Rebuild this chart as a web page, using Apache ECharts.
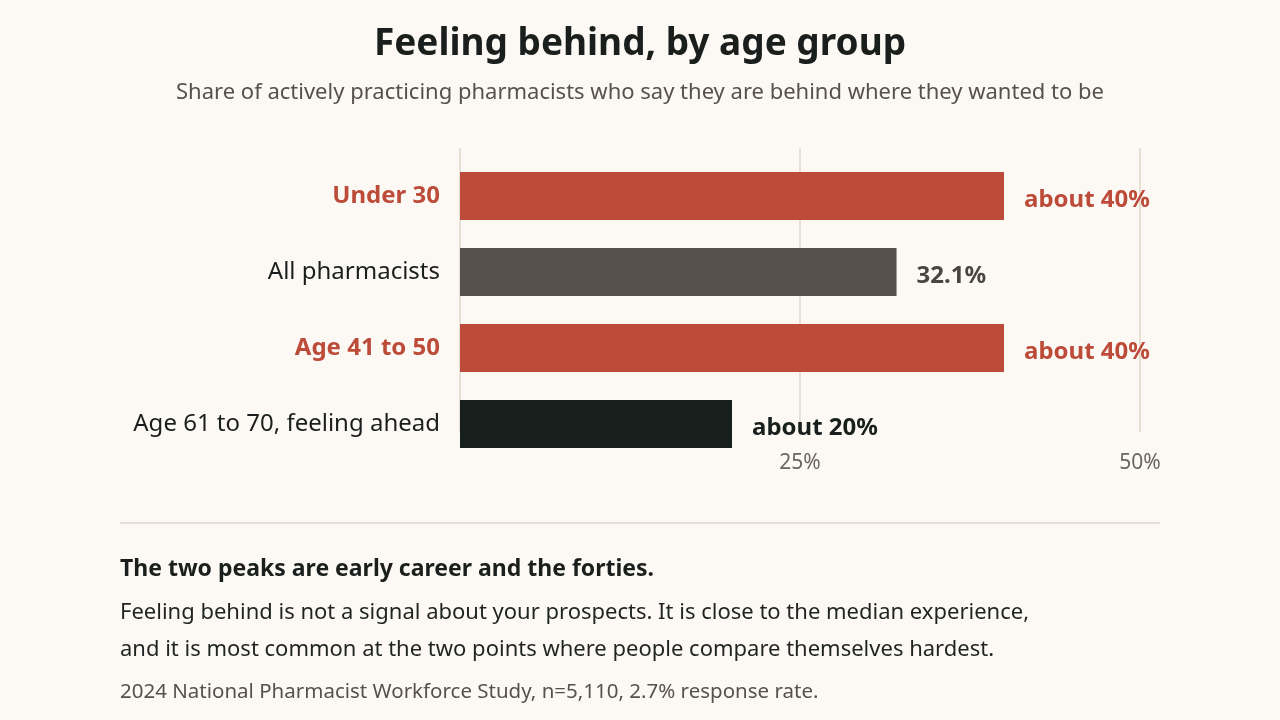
<!DOCTYPE html>
<html>
<head>
<meta charset="utf-8">
<script src="https://cdn.jsdelivr.net/npm/echarts@6/dist/echarts.min.js"></script>
<style>
  html, body { margin: 0; padding: 0; background: #fcf9f4; }
  #main { width: 1280px; height: 720px; }
</style>
</head>
<body>
<div id="main"></div>
<script>
var categories = ['Under 30', 'All pharmacists', 'Age 41 to 50', 'Age 61 to 70, feeling ahead'];
var values = [40, 32.1, 40, 20];
var valueLabels = ['about 40%', '32.1%', 'about 40%', 'about 20%'];
var highlighted = ['Under 30', 'Age 41 to 50'];

var barColors = ['#bc4b3a', '#57514b', '#bc4b3a', '#18201e'];
var labelColors = ['#bc4b3a', '#4a4541', '#bc4b3a', '#18201e'];
var FONT = '"Noto Sans", sans-serif';

var myChart = echarts.init(document.getElementById('main'));

var option = {
    backgroundColor: '#fcf9f4',
    textStyle: { fontFamily: FONT },
    title: [{
        text: 'Feeling behind, by age group',
        left: 'center', top: 26, padding: 0,
        textStyle: { fontSize: 37, fontWeight: 'bold', color: '#1a1f1e', fontFamily: FONT }
    }, {
        text: 'Share of actively practicing pharmacists who say they are behind where they wanted to be',
        left: 'center', top: 82, padding: 0,
        textStyle: { fontSize: 22, fontWeight: 'normal', color: '#57514b', fontFamily: FONT }
    }, {
        text: 'The two peaks are early career and the forties.',
        left: 120, top: 558, padding: 0,
        textStyle: { fontSize: 23, fontWeight: 'bold', color: '#1a1f1e', fontFamily: FONT }
    }, {
        text: 'Feeling behind is not a signal about your prospects. It is close to the median experience,\nand it is most common at the two points where people compare themselves hardest.',
        left: 120, top: 594, padding: 0,
        textStyle: { fontSize: 22, fontWeight: 'normal', color: '#1f2422', lineHeight: 37, fontFamily: FONT }
    }, {
        text: '2024 National Pharmacist Workforce Study, n=5,110, 2.7% response rate.',
        left: 120, top: 682, padding: 0,
        textStyle: { fontSize: 20.5, fontWeight: 'normal', color: '#57514b', fontFamily: FONT }
    }],
    graphic: [{
        type: 'line',
        shape: { x1: 120, y1: 523, x2: 1160, y2: 523 },
        style: { stroke: '#e6dfd3', lineWidth: 2 }
    }],
    grid: [
        // bars
        { left: 460, right: 140, top: 158, height: 304 },
        // gridlines and tick labels
        { left: 460, right: 140, top: 148, height: 284 }
    ],
    xAxis: [{
        gridIndex: 0, type: 'value', min: 0, max: 50, interval: 25,
        axisLine: { show: false }, axisTick: { show: false },
        axisLabel: { show: false }, splitLine: { show: false }
    }, {
        gridIndex: 1, type: 'value', min: 0, max: 50, interval: 25,
        axisLine: { show: false }, axisTick: { show: false },
        axisLabel: {
            margin: 21, fontSize: 21, color: '#6b655f', fontFamily: FONT,
            formatter: function (v) { return v === 0 ? '' : v + '%'; }
        },
        splitLine: { show: true, showMinLine: true, lineStyle: { color: '#e6dfd3', width: 2 } }
    }],
    yAxis: [{
        gridIndex: 0, type: 'category', inverse: true,
        data: categories.map(function (c) {
            var hot = highlighted.indexOf(c) >= 0;
            return { value: c, textStyle: { color: hot ? '#bc4b3a' : '#1a1f1e', fontWeight: hot ? 'bold' : 'normal' } };
        }),
        axisLine: { show: false }, axisTick: { show: false },
        axisLabel: { margin: 20, fontSize: 24, fontFamily: FONT }
    }, {
        gridIndex: 1, type: 'category', data: categories, show: false
    }],
    series: [{
        type: 'bar',
        xAxisIndex: 0, yAxisIndex: 0,
        barWidth: 48,
        silent: true,
        data: values.map(function (v, i) {
            return {
                value: v,
                itemStyle: { color: barColors[i] },
                label: { color: labelColors[i] }
            };
        }),
        label: {
            show: true, position: 'right', distance: 20,
            fontSize: 24, fontWeight: 'bold', fontFamily: FONT,
            offset: [0, 4],
            formatter: function (p) { return valueLabels[p.dataIndex]; }
        }
    }]
};

myChart.setOption(option);
window.addEventListener("resize", function () {
    myChart.resize();
});
</script>
</body>
</html>
